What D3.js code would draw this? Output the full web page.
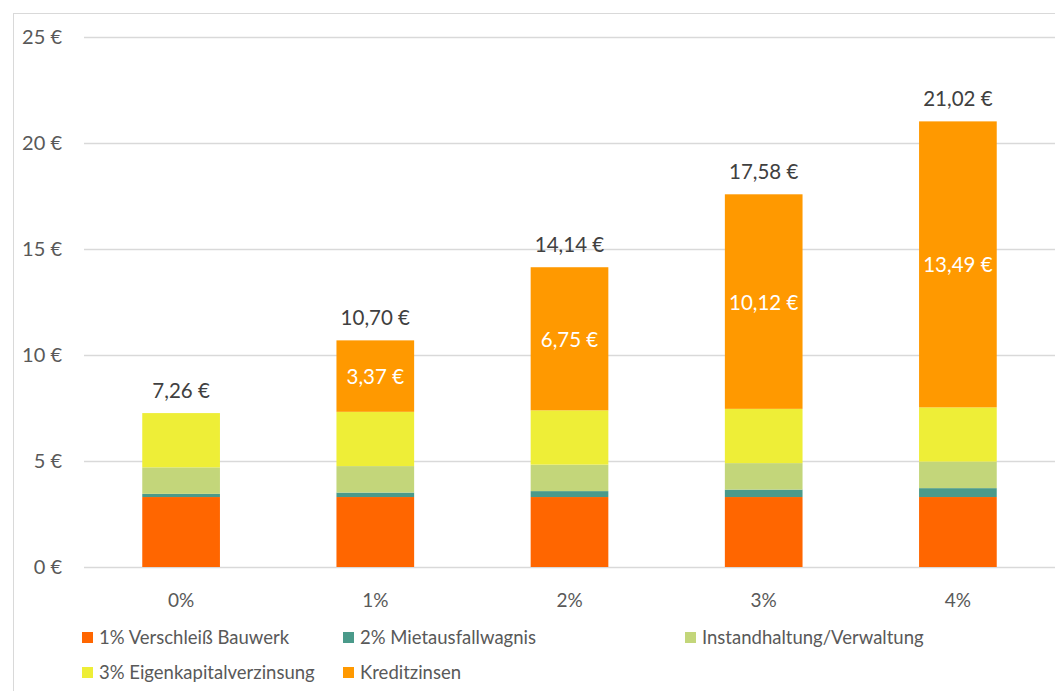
<!DOCTYPE html>
<html>
<head>
<meta charset="utf-8">
<script src="https://cdn.jsdelivr.net/npm/d3@7"></script>
<style>
  body { margin: 0; background: #fff; }
  svg { display: block; font-family: Lato, "Open Sans", sans-serif; }
</style>
</head>
<body>
<svg id="chart" width="1055" height="691"></svg>
<script>
// values
var categories = ["0%", "1%", "2%", "3%", "4%"];
var verschleiss = [3.30, 3.30, 3.30, 3.30, 3.30];
var mietausfall = [0.15, 0.21, 0.28, 0.35, 0.42];
var instandhaltung = [1.25, 1.25, 1.25, 1.25, 1.25];
var eigenkapital = [2.56, 2.56, 2.56, 2.56, 2.56];
var kreditzinsen = [0, 3.37, 6.75, 10.12, 13.49];
var totals = [7.26, 10.70, 14.14, 17.58, 21.02];
var yTicks = [0, 5, 10, 15, 20, 25];

var seriesNames = ["1% Verschleiß Bauwerk", "2% Mietausfallwagnis", "Instandhaltung/Verwaltung",
                   "3% Eigenkapitalverzinsung", "Kreditzinsen"];
var seriesColors = ["#ff6600", "#4a9a8a", "#c3d67a", "#eeee37", "#ff9900"];

(function() {
var rows = categories.map(function(c, i) {
  return { cat: c, s0: verschleiss[i], s1: mietausfall[i], s2: instandhaltung[i],
           s3: eigenkapital[i], s4: kreditzinsen[i], total: totals[i] };
});

var svg = d3.select("#chart");

// chart frame (clipped at right / bottom like the screenshot)
svg.append("rect")
   .attr("x", 13.5).attr("y", 13.5)
   .attr("width", 1100).attr("height", 800)
   .attr("fill", "none").attr("stroke", "#d9d9d9");

var plotL = 84, plotR = 1055, plotT = 37, plotB = 567;

var x = d3.scaleBand().domain(categories).range([plotL, plotR]).paddingInner(0.6).paddingOuter(0.3);
var y = d3.scaleLinear().domain([0, 25]).range([plotB, plotT]);

// gridlines
svg.append("g").selectAll("line")
   .data(yTicks).enter().append("line")
   .attr("x1", plotL).attr("x2", plotR)
   .attr("y1", function(d) { return Math.round(y(d)) + 0.5; })
   .attr("y2", function(d) { return Math.round(y(d)) + 0.5; })
   .attr("stroke", "#d9d9d9").attr("stroke-width", 1.5);

// y labels
svg.append("g").selectAll("text")
   .data(yTicks).enter().append("text")
   .attr("x", 62).attr("y", function(d) { return y(d) + 7; })
   .attr("text-anchor", "end")
   .attr("fill", "#595959").attr("font-size", 20)
   .text(function(d) { return d + " €"; });

// x labels
svg.append("g").selectAll("text")
   .data(categories).enter().append("text")
   .attr("x", function(d) { return x(d) + x.bandwidth() / 2; })
   .attr("y", 607)
   .attr("text-anchor", "middle")
   .attr("fill", "#595959").attr("font-size", 19)
   .text(function(d) { return d; });

var stack = d3.stack().keys(["s0", "s1", "s2", "s3", "s4"]);
var stacked = stack(rows);

var layers = svg.append("g").selectAll("g")
   .data(stacked).enter().append("g")
   .attr("fill", function(d, i) { return seriesColors[i]; });

layers.selectAll("rect")
   .data(function(d) { return d; })
   .enter().append("rect")
   .attr("x", function(d) { return x(d.data.cat); })
   .attr("width", x.bandwidth())
   .attr("y", function(d) { return y(d[1]); })
   .attr("height", function(d) { return y(d[0]) - y(d[1]); });

var fmt = function(v) { return v.toFixed(2).replace(".", ",") + " €"; };

// Kreditzinsen labels inside
svg.append("g").selectAll("text")
   .data(stacked[4].filter(function(d) { return d.data.s4 > 0; }))
   .enter().append("text")
   .attr("x", function(d) { return x(d.data.cat) + x.bandwidth() / 2; })
   .attr("y", function(d) { return (y(d[0]) + y(d[1])) / 2 + 8; })
   .attr("text-anchor", "middle")
   .attr("fill", "#ffffff").attr("font-size", 20.5)
   .text(function(d) { return fmt(d.data.s4); });

// totals above
svg.append("g").selectAll("text")
   .data(rows).enter().append("text")
   .attr("x", function(d) { return x(d.cat) + x.bandwidth() / 2; })
   .attr("y", function(d) { return y(d.total) - 15; })
   .attr("text-anchor", "middle")
   .attr("fill", "#404040").attr("font-size", 20.5)
   .text(function(d) { return fmt(d.total); });

// legend
var legendPos = [[82, 632], [343, 632], [685, 632], [82, 667], [343, 667]];
var legend = svg.append("g").selectAll("g")
   .data(seriesNames).enter().append("g")
   .attr("transform", function(d, i) { return "translate(" + legendPos[i][0] + "," + legendPos[i][1] + ")"; });

legend.append("rect")
   .attr("x", 0).attr("y", 0).attr("width", 11).attr("height", 11)
   .attr("fill", function(d, i) { return seriesColors[i]; });

legend.append("text")
   .attr("x", 17).attr("y", 12)
   .attr("fill", "#595959").attr("font-size", 18.5)
   .text(function(d) { return d; });
})();
</script>
</body>
</html>
